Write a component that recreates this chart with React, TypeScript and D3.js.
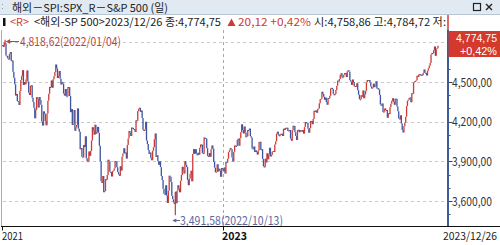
import React from "react";
import * as d3 from "d3";

// ---- data (S&P 500 daily closes) ----
const closes2021 = [4778.73, 4766.18];
const closes2022 = [
  // Jan
  4796.56, 4793.54, 4700.58, 4696.05, 4677.03, 4670.29, 4713.07, 4726.35, 4659.03, 4662.85, 4577.11, 4532.76, 4482.73, 4397.94, 4410.13, 4356.45, 4349.93, 4326.51, 4431.85, 4515.55,
  // Feb
  4546.54, 4589.38, 4477.44, 4500.53, 4483.87, 4521.54, 4587.18, 4504.08, 4418.64, 4401.67, 4471.07, 4475.01, 4380.26, 4348.87, 4304.76, 4225.5, 4288.7, 4384.65, 4373.94,
  // Mar
  4306.26, 4386.54, 4363.49, 4328.87, 4201.09, 4170.7, 4277.88, 4259.52, 4204.31, 4173.11, 4262.45, 4357.86, 4411.67, 4463.12, 4461.18, 4511.61, 4456.24, 4520.16, 4543.06, 4575.52, 4631.6, 4602.45, 4530.41,
  // Apr
  4545.86, 4582.64, 4525.12, 4481.15, 4500.21, 4488.28, 4412.53, 4397.45, 4446.59, 4392.59, 4391.69, 4462.21, 4459.45, 4393.66, 4271.78, 4296.12, 4175.2, 4183.96, 4287.5, 4131.93,
  // May
  4155.38, 4175.48, 4300.17, 4146.87, 4123.34, 3991.24, 4001.05, 3935.18, 3930.08, 4023.89, 4008.01, 4088.85, 3923.68, 3900.79, 3901.36, 3973.75, 3941.48, 3978.73, 4057.84, 4158.24, 4132.15,
  // Jun
  4101.23, 4176.82, 4108.54, 4121.43, 4160.68, 4115.77, 4017.82, 3900.86, 3749.63, 3735.48, 3789.99, 3666.77, 3674.84, 3764.79, 3759.89, 3795.73, 3911.74, 3900.11, 3821.55, 3818.83, 3785.38,
  // Jul
  3825.33, 3831.39, 3845.08, 3902.62, 3899.38, 3854.43, 3818.8, 3801.78, 3790.38, 3863.16, 3830.85, 3936.69, 3959.9, 3998.95, 3961.63, 3966.84, 3921.05, 4023.61, 4072.43, 4130.29,
  // Aug
  4118.63, 4091.19, 4155.17, 4151.94, 4145.19, 4140.06, 4122.47, 4210.24, 4207.27, 4280.15, 4297.14, 4305.2, 4274.04, 4283.74, 4228.48, 4137.99, 4128.73, 4140.77, 4199.12, 4057.66, 4030.61, 3986.16, 3955.0,
  // Sep
  3966.85, 3924.26, 3908.19, 3979.87, 4006.18, 4067.36, 4110.41, 3932.69, 3946.01, 3901.35, 3873.33, 3899.89, 3855.93, 3789.93, 3757.99, 3693.23, 3655.04, 3647.29, 3719.04, 3640.47, 3585.62,
  // Oct
  3678.43, 3790.93, 3783.28, 3744.52, 3639.66, 3612.39, 3588.84, 3577.03, 3669.91, 3583.07, 3677.95, 3719.98, 3695.16, 3665.78, 3752.75, 3797.34, 3859.11, 3830.6, 3807.3, 3901.06, 3871.98,
  // Nov
  3856.1, 3759.69, 3719.89, 3770.55, 3806.8, 3828.11, 3748.57, 3956.37, 3992.93, 3957.25, 3991.73, 3958.79, 3946.56, 3965.34, 3949.94, 4003.58, 4027.26, 4026.12, 3963.94, 3957.63, 4080.11,
  // Dec
  4076.57, 4071.7, 3998.84, 3941.26, 3933.92, 3963.51, 3934.38, 3990.56, 4019.65, 3995.32, 3895.75, 3852.36, 3817.66, 3821.62, 3878.44, 3822.39, 3844.82, 3829.25, 3783.22, 3849.28, 3839.5,
];
const closes2023 = [
  // Jan
  3824.14, 3852.97, 3808.1, 3895.08, 3892.09, 3919.25, 3969.61, 3983.17, 3999.09, 3990.97, 3928.86, 3898.85, 3972.61, 4019.81, 4016.95, 4016.22, 4060.43, 4070.56, 4017.77, 4076.6,
  // Feb
  4119.21, 4179.76, 4136.48, 4111.08, 4164.0, 4117.86, 4081.5, 4090.46, 4137.29, 4136.13, 4147.6, 4090.41, 4079.09, 3997.34, 3991.05, 4012.32, 3970.04, 3982.24, 3970.15,
  // Mar
  3951.39, 3981.35, 4045.64, 4048.42, 3986.37, 3992.01, 3918.32, 3861.59, 3855.76, 3919.29, 3891.93, 3960.28, 3916.64, 3951.57, 4002.87, 3936.97, 3948.72, 3970.99, 3977.53, 3971.27, 4027.81, 4050.83, 4109.31,
  // Apr
  4124.51, 4100.6, 4090.38, 4105.02, 4109.11, 4108.94, 4091.95, 4146.22, 4137.64, 4151.32, 4154.87, 4154.52, 4129.79, 4133.52, 4137.04, 4071.63, 4055.99, 4135.35, 4169.48,
  // May
  4167.87, 4119.58, 4090.75, 4061.22, 4136.25, 4138.12, 4119.17, 4137.64, 4130.62, 4124.08, 4136.28, 4109.9, 4158.77, 4198.05, 4191.98, 4192.63, 4145.58, 4115.24, 4151.28, 4205.45, 4205.52, 4179.83,
  // Jun
  4221.02, 4282.37, 4273.79, 4283.85, 4267.52, 4293.93, 4298.86, 4338.93, 4369.01, 4372.59, 4425.84, 4409.59, 4388.71, 4365.69, 4381.89, 4348.33, 4328.82, 4378.41, 4376.86, 4396.44, 4450.38,
  // Jul
  4455.59, 4446.82, 4411.59, 4398.95, 4409.53, 4439.26, 4472.16, 4510.04, 4505.42, 4522.79, 4554.98, 4565.72, 4534.87, 4536.34, 4554.64, 4567.46, 4566.75, 4537.41, 4582.23, 4588.96,
  // Aug
  4576.73, 4513.39, 4501.89, 4478.03, 4518.44, 4499.38, 4467.71, 4468.83, 4464.05, 4489.72, 4437.86, 4404.33, 4370.36, 4369.71, 4399.77, 4387.55, 4436.01, 4376.31, 4405.71, 4433.31, 4497.63, 4514.87, 4507.66,
  // Sep
  4515.77, 4496.83, 4465.48, 4451.14, 4457.49, 4487.46, 4461.9, 4467.44, 4505.1, 4450.32, 4453.53, 4443.95, 4402.2, 4330.0, 4320.06, 4337.44, 4273.53, 4274.51, 4299.7, 4288.05,
  // Oct
  4288.39, 4229.45, 4263.75, 4258.19, 4308.5, 4335.66, 4358.24, 4376.95, 4349.61, 4327.78, 4373.63, 4373.2, 4314.6, 4278.0, 4224.16, 4217.04, 4247.68, 4186.77, 4137.23, 4117.37, 4166.82, 4193.8,
  // Nov
  4237.86, 4317.78, 4358.34, 4365.98, 4378.38, 4382.78, 4347.35, 4415.24, 4411.55, 4495.7, 4502.88, 4508.24, 4514.02, 4547.38, 4538.19, 4556.62, 4559.34, 4550.43, 4554.89, 4550.58, 4567.8,
  // Dec
  4594.63, 4569.78, 4567.18, 4549.34, 4585.59, 4604.37, 4622.44, 4643.7, 4707.09, 4719.55, 4719.19, 4740.56, 4768.37, 4698.35, 4746.75, 4754.63, 4774.75,
];

const yTicks = [3600, 3900, 4200, 4500, 4800];
const yTickLabels = ["3,600,00", "3,900,00", "4,200,00", "4,500,00", ""];
const xLabels = ["2021", "2023", "2023/12/26"];

const extremeValues = [4818.62, 3491.58];
const extremeDayIn2022 = [1, 196];
const extremeLabels = ["4,818,62(2022/01/04)", "3,491,58(2022/10/13)"];

const titleText = "해외－SPI:SPX_R－S&P 500 (일)";
const infoMain = "<해외-SP 500>2023/12/26 종:4,774,75";
const infoChange = "20,12 +0,42%";
const infoOHL = "시:4,758,86 고:4,784,72 저:";
const lastPrice = "4,774,75";
const lastPct = "+0,42%";

const RED = "#cc3b34";
const BLUE = "#3a55a2";
const FONT = "'Noto Sans CJK KR', 'Noto Sans', sans-serif";
const NUMFONT = "'Liberation Sans', Arial, sans-serif";

export default function App() {
  const closes = [...closes2021, ...closes2022, ...closes2023];
  const n = closes.length;
  const x = d3.scaleLinear().domain([0, n - 1]).range([2.5, 438]);
  const y = d3.scaleLinear().domain([3600, 4500]).range([201, 82]);
  const plotTop = 30;
  const axisY = 226.5;
  const rightX = 447.5;
  const idx2023 = closes2021.length + closes2022.length;
  const x2023 = Math.round((x(idx2023 - 1) + x(idx2023)) / 2) + 0.5;

  const bars = closes.map((c, i) => {
    const prev = i === 0 ? c : closes[i - 1];
    let y1 = y(Math.max(prev, c));
    let y2 = y(Math.min(prev, c));
    if (y2 - y1 < 1) y2 = y1 + 1;
    return { i, y1, y2, up: c >= prev };
  });

  const extremes = extremeValues.map((v, k) => {
    const i = closes2021.length + extremeDayIn2022[k];
    return { i, v, label: extremeLabels[k], c: closes[i], prev: closes[i - 1] };
  });

  const minorTicks = d3.range(3500, 4801, 100);

  return (
    <svg width={500} height={245} style={{ position: "absolute", left: 0, top: 0, background: "#fff" }}>
      {/* header */}
      <rect x={0} y={0} width={500} height={14} fill="#e1eaf2" />
      <line x1={0} x2={500} y1={14.5} y2={14.5} stroke="#b8c6d4" />
      <rect x={2} y={4} width={1} height={1} fill="#8a9aa8" />
      <rect x={2} y={8} width={1} height={1} fill="#8a9aa8" />
      <text x={12} y={11.5} fontFamily={FONT} fontSize={11} fill="#222" textLength={156} lengthAdjust="spacingAndGlyphs">{titleText}</text>
      <rect x={473.5} y={3.5} width={7} height={7} fill="none" stroke="#222" strokeWidth={1.2} />
      <path d="M486,4 L492,10 M492,4 L486,10" stroke="#222" strokeWidth={1.4} />

      {/* info line */}
      <rect x={3} y={18} width={2.5} height={8} fill="#111" />
      <text x={10} y={26} fontFamily={FONT} fontSize={11} fill={RED} textLength={19} lengthAdjust="spacingAndGlyphs">{"<R>"}</text>
      <text x={34} y={26} fontFamily={FONT} fontSize={11} fill="#222" textLength={187} lengthAdjust="spacingAndGlyphs">{infoMain}</text>
      <path d="M227.5,26 L231.5,18.5 L235.5,26 Z" fill={RED} />
      <text x={238} y={26} fontFamily={FONT} fontSize={11} fill={RED} textLength={73} lengthAdjust="spacingAndGlyphs">{infoChange}</text>
      <text x={314} y={26} fontFamily={FONT} fontSize={11} fill="#222" textLength={132} lengthAdjust="spacingAndGlyphs">{infoOHL}</text>
      <line x1={448} x2={448} y1={15} y2={33} stroke={RED} strokeWidth={1.5} />

      {/* grid */}
      {yTicks.map((t) => (
        <line key={"g" + t} x1={3} x2={rightX - 1} y1={Math.round(y(t)) + 0.5} y2={Math.round(y(t)) + 0.5}
          stroke="#c8c8c8" strokeDasharray="3,3" />
      ))}
      <line x1={x2023} x2={x2023} y1={plotTop} y2={axisY} stroke="#a8a8a8" strokeDasharray="3,3" />
      <line x1={1.5} x2={1.5} y1={plotTop} y2={axisY} stroke="#aab" />

      {/* bars */}
      {bars.map((b) => (
        <line key={b.i} x1={x(b.i)} x2={x(b.i)} y1={b.y1} y2={b.y2} stroke={b.up ? RED : BLUE} strokeWidth={1.3} />
      ))}
      {/* extreme wicks */}
      {extremes.map((e, k) => (
        <line key={"w" + k} x1={x(e.i)} x2={x(e.i)}
          y1={y(e.v)} y2={y(k === 0 ? Math.max(e.c, e.prev) : Math.min(e.c, e.prev))}
          stroke={k === 0 ? RED : "#b04040"} strokeWidth={1.2} />
      ))}

      {/* max annotation */}
      <line x1={x(extremes[0].i) + 1} x2={19} y1={41.5} y2={41.5} stroke="#b9463b" />
      <path d={`M${x(extremes[0].i) + 1},41.5 l4,-2.5 v5 z`} fill="#b9463b" />
      <text x={20} y={46} fontFamily={FONT} fontSize={12} fill="#b9463b" textLength={101} lengthAdjust="spacingAndGlyphs">{extremes[0].label}</text>

      {/* min annotation */}
      <line x1={x(extremes[1].i) - 2} x2={180} y1={220.5} y2={220.5} stroke="#5a68a0" />
      <path d={`M${x(extremes[1].i) - 3},220.5 l4,-2 v4 z`} fill="#5a68a0" />
      <text x={180} y={225} fontFamily={FONT} fontSize={12} fill="#5a68a0" textLength={103} lengthAdjust="spacingAndGlyphs">{extremes[1].label}</text>

      {/* right axis */}
      <line x1={rightX + 0.5} x2={rightX + 0.5} y1={plotTop} y2={axisY} stroke="#3e5c9a" strokeWidth={2} />
      {minorTicks.map((t) => (
        <line key={"m" + t} x1={rightX + 1.5} x2={rightX + 3} y1={Math.round(y(t)) + 0.5} y2={Math.round(y(t)) + 0.5}
          stroke="#555" />
      ))}
      {yTicks.map((t, k) => yTickLabels[k] ? (
        <g key={"l" + t}>
          <line x1={rightX + 1.5} x2={rightX + 5} y1={Math.round(y(t)) + 0.5} y2={Math.round(y(t)) + 0.5} stroke="#444" />
          <text x={452} y={y(t) + 4.5} fontFamily={FONT} fontSize={12} fill="#333" textLength={40} lengthAdjust="spacingAndGlyphs">{yTickLabels[k]}</text>
        </g>
      ) : null)}

      {/* last price box */}
      <rect x={448.5} y={31} width={51.5} height={26} fill="#d3392d" />
      <text x={497} y={42} textAnchor="end" fontFamily={NUMFONT} fontSize={11} fill="#fff" textLength={41} lengthAdjust="spacingAndGlyphs">{lastPrice}</text>
      <text x={497} y={54.5} textAnchor="end" fontFamily={NUMFONT} fontSize={11} fill="#fff" textLength={37} lengthAdjust="spacingAndGlyphs">{lastPct}</text>

      {/* bottom axis */}
      <line x1={1} x2={500} y1={axisY} y2={axisY} stroke="#111" />
      <line x1={2.5} x2={2.5} y1={axisY} y2={axisY + 4} stroke="#111" />
      <line x1={x2023} x2={x2023} y1={axisY} y2={axisY + 4} stroke="#111" />
      <text x={2} y={240} fontFamily={FONT} fontSize={11} fill="#222" textLength={21} lengthAdjust="spacingAndGlyphs">{xLabels[0]}</text>
      <text x={222} y={240} fontFamily={FONT} fontSize={11} fontWeight="bold" fill="#111" textLength={25} lengthAdjust="spacingAndGlyphs">{xLabels[1]}</text>
      <text x={443} y={240} fontFamily={FONT} fontSize={11} fill="#222" textLength={54} lengthAdjust="spacingAndGlyphs">{xLabels[2]}</text>
    </svg>
  );
}
